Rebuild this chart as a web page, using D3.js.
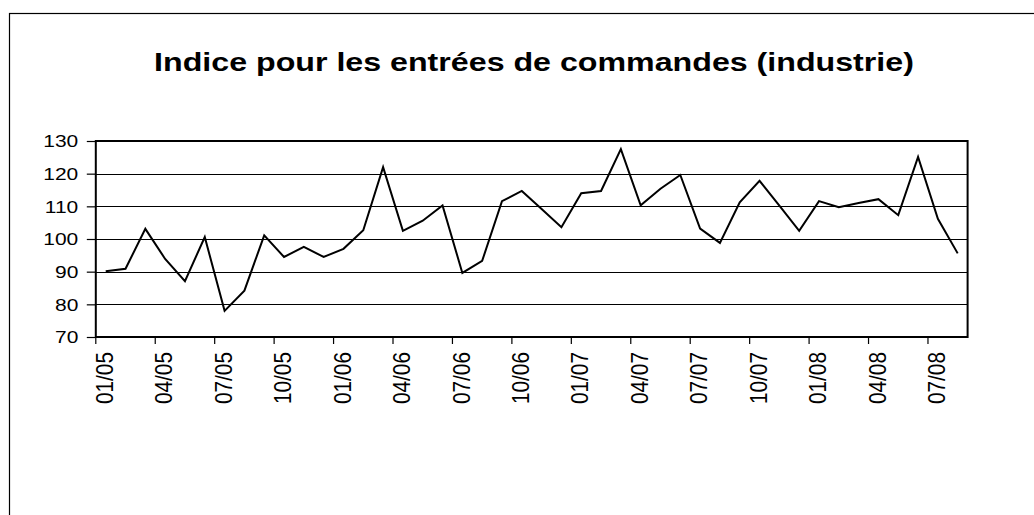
<!DOCTYPE html>
<html>
<head>
<meta charset="utf-8">
<script src="https://cdn.jsdelivr.net/npm/d3@7"></script>
<style>
  html, body { margin: 0; padding: 0; background: #fff; }
  svg { display: block; font-family: "Liberation Sans", Arial, sans-serif; }
</style>
</head>
<body>
<div id="chart"></div>
<script>
// monthly categories Jan 2005 .. Aug 2008
const years = ["05", "06", "07", "08"];
const months = [];
years.forEach(yy => {
    for (let m = 1; m <= 12; m++) {
        if (yy === "08" && m > 8) break;
        months.push((m < 10 ? "0" + m : "" + m) + "/" + yy);
    }
});

// index values
const values = [
    90.1, 90.9, 103.1, 93.9, 87.1, 100.6, 78.0, 84.2, 101.1, 94.5, 97.6, 94.5,
    97.0, 102.7, 122.0, 102.5, 105.6, 110.3, 89.6, 93.3, 111.6, 114.7, 109.2, 103.6,
    114.0, 114.7, 127.5, 110.3, 115.4, 119.6, 103.2, 98.8, 111.2, 117.8, 110.2, 102.5,
    111.6, 109.7, 111.0, 112.2, 107.3, 125.1, 106.2, 95.6
];

const yTicks = [70, 80, 90, 100, 110, 120, 130];
const title = "Indice pour les entrées de commandes (industrie)";

const W = 1034, H = 515;
const plot = { left: 95.8, right: 967.6, top: 141, bottom: 337 };

const svg = d3.select("#chart").append("svg")
    .attr("width", W)
    .attr("height", H);

// outer chart-area frame (runs off the right and bottom edges)
svg.append("rect")
    .attr("x", 9.5).attr("y", 13.5)
    .attr("width", W + 20).attr("height", H + 20)
    .attr("fill", "#fff")
    .attr("stroke", "#000")
    .attr("stroke-width", 1.2);

const x = d3.scaleBand().domain(months).range([plot.left, plot.right]).padding(0);
const y = d3.scaleLinear().domain([70, 130]).range([plot.bottom, plot.top]);

// title, stretched horizontally like the original
const t = svg.append("text")
    .attr("text-anchor", "middle")
    .attr("font-size", 26.5)
    .attr("font-weight", "bold")
    .text(title);
const tw = t.node().getComputedTextLength();
t.attr("transform", `translate(534,70.5) scale(${760 / tw},1)`);

// plot background
svg.append("rect")
    .attr("x", plot.left).attr("y", plot.top)
    .attr("width", plot.right - plot.left).attr("height", plot.bottom - plot.top)
    .attr("fill", "#fff");

// gridlines
svg.append("g")
    .selectAll("line")
    .data(yTicks.slice(1, -1))
    .join("line")
    .attr("x1", plot.left).attr("x2", plot.right)
    .attr("y1", d => Math.round(y(d)) + 0.5).attr("y2", d => Math.round(y(d)) + 0.5)
    .attr("stroke", "#000")
    .attr("stroke-width", 1);

// y axis
const yAxis = d3.axisLeft(y).tickValues(yTicks).tickSize(9).tickPadding(8);
const gy = svg.append("g")
    .attr("transform", `translate(${plot.left},0)`)
    .call(yAxis);
gy.select(".domain").remove();
gy.selectAll(".tick line").attr("stroke", "#000").attr("stroke-width", 1.2);
gy.selectAll(".tick text")
    .attr("font-size", 17.2)
    .attr("font-family", "Liberation Sans, Arial, sans-serif")
    .attr("fill", "#000")
    .attr("x", null)
    .attr("dy", null)
    .attr("dominant-baseline", "central")
    .attr("transform", "translate(-17.5,0) scale(1.22,1)");

// x axis ticks at category boundaries, every 3 months
const tickMonths = months.filter((m, i) => i % 3 === 0);
svg.append("g")
    .selectAll("line")
    .data(tickMonths)
    .join("line")
    .attr("x1", d => x(d)).attr("x2", d => x(d))
    .attr("y1", plot.bottom).attr("y2", plot.bottom + 7)
    .attr("stroke", "#000")
    .attr("stroke-width", 1.2);

svg.append("g")
    .selectAll("text")
    .data(tickMonths)
    .join("text")
    .attr("transform", d => `translate(${x(d) + x.bandwidth() / 2 - 1},${plot.bottom + 15}) rotate(-90) scale(1,1.12)`)
    .attr("text-anchor", "end")
    .attr("dy", "0.35em")
    .attr("font-size", 20.8)
    .attr("fill", "#000")
    .text(d => d);

// plot border
svg.append("rect")
    .attr("x", plot.left).attr("y", plot.top)
    .attr("width", plot.right - plot.left).attr("height", plot.bottom - plot.top)
    .attr("fill", "none")
    .attr("stroke", "#000")
    .attr("stroke-width", 2);

// series line
const line = d3.line()
    .x((d, i) => x(months[i]) + x.bandwidth() / 2)
    .y(d => y(d));

svg.append("path")
    .datum(values)
    .attr("d", line)
    .attr("fill", "none")
    .attr("stroke", "#000")
    .attr("stroke-width", 2)
    .attr("stroke-linejoin", "miter");
</script>
</body>
</html>
